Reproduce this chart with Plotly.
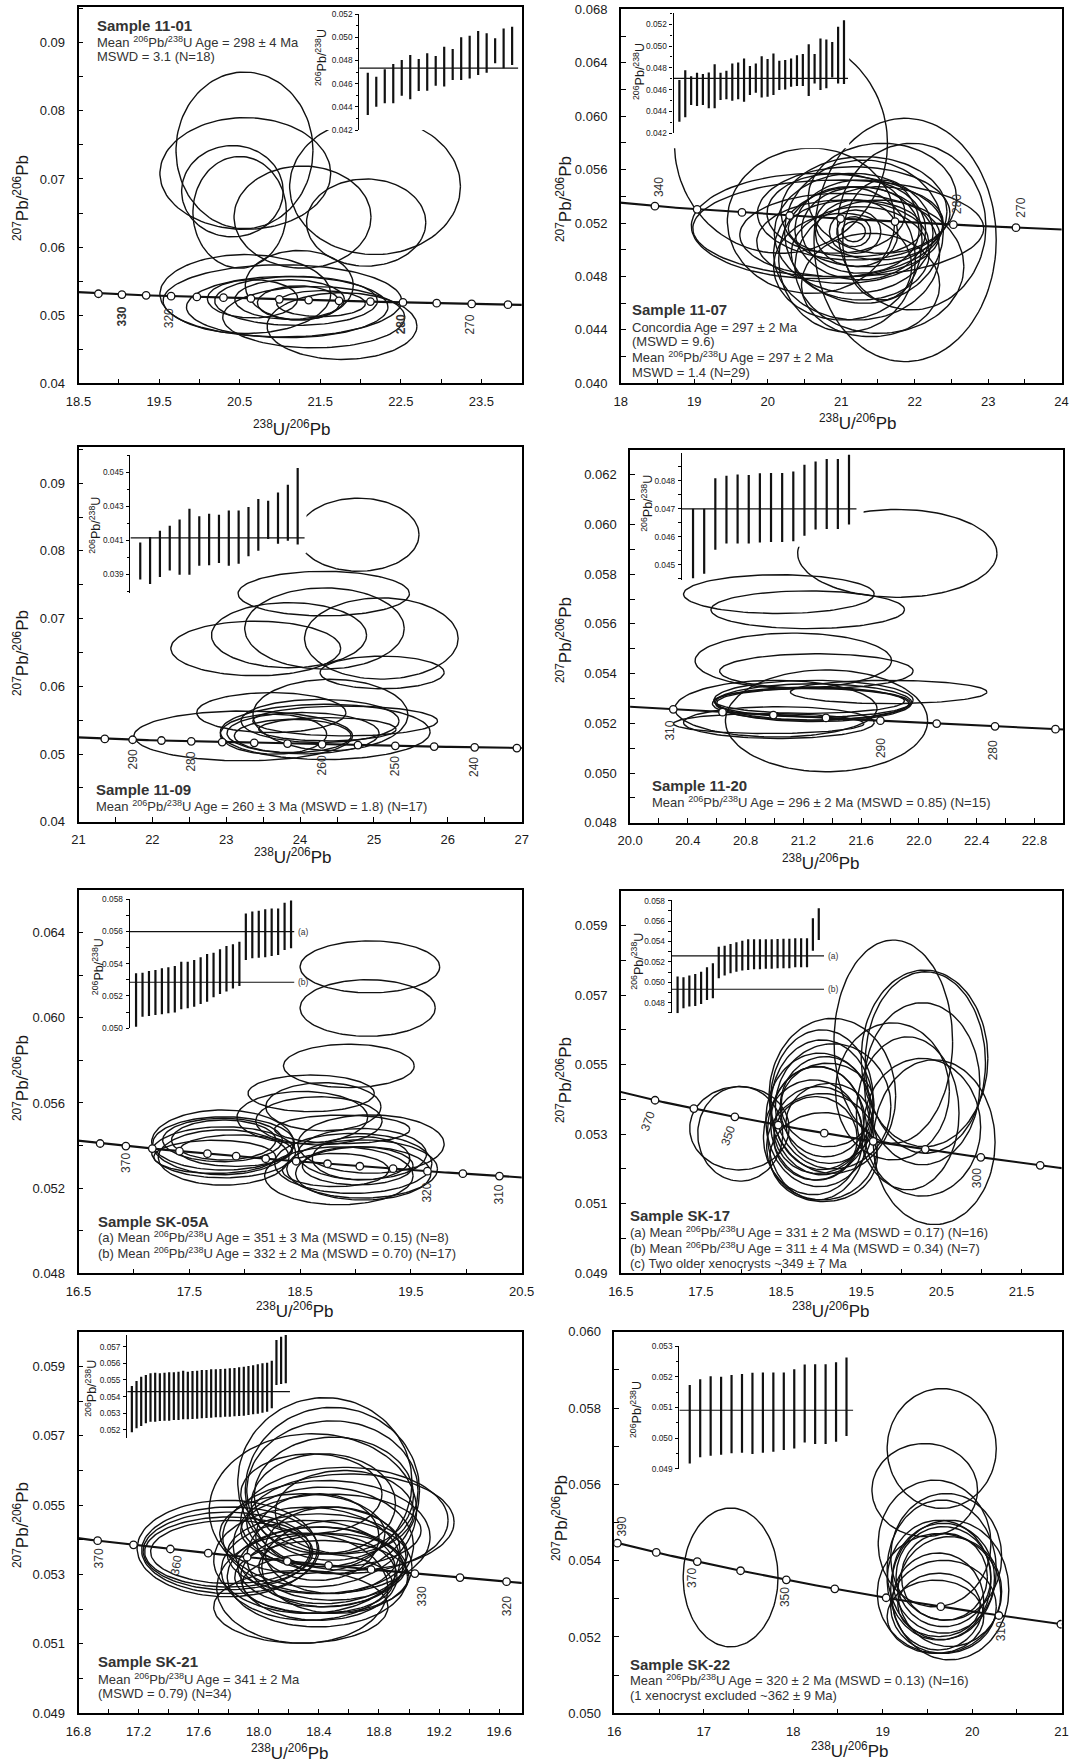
import numpy as np
import plotly.graph_objects as go

W, H = 1073, 1762
FONT = "Liberation Sans, Arial, Helvetica, sans-serif"
INK = "#111111"
TXT = "#333333"

# U-Pb decay constants (concordia model)
L238, L235, U85 = 1.55125e-10, 9.8485e-10, 137.88

SUP = "<sup>206</sup>Pb/<sup>238</sup>U"

# ---------------- Sample 11-01 ----------------
S1101_CX = [20.56, 20.57, 20.41, 20.50, 21.28, 22.07, 22.18, 21.24, 20.57, 21.03, 21.09, 21.77, 21.20, 21.12, 21.23, 21.51, 20.66, 21.42]
S1101_CY = [0.0742, 0.0708, 0.0682, 0.0651, 0.0644, 0.0636, 0.0689, 0.0544, 0.0531, 0.0521, 0.0512, 0.0484, 0.0521, 0.0523, 0.0518, 0.0517, 0.0524, 0.0497]
S1101_RX = [0.85, 1.06, 0.63, 0.58, 0.85, 0.74, 1.06, 0.67, 1.06, 1.48, 1.25, 0.93, 1.01, 0.68, 0.51, 0.55, 0.56, 1.13]
S1101_RY = [0.0115, 0.0082, 0.0067, 0.0082, 0.0075, 0.0064, 0.0100, 0.0051, 0.0058, 0.0053, 0.0045, 0.0049, 0.0036, 0.0029, 0.0025, 0.0019, 0.0028, 0.0045]
S1101_HI = [0.04694, 0.0466, 0.04723, 0.04769, 0.04803, 0.04847, 0.04812, 0.04861, 0.04838, 0.04918, 0.04898, 0.04999, 0.05013, 0.05053, 0.05033, 0.0499, 0.05076, 0.05091]
S1101_LO = [0.04329, 0.04401, 0.0443, 0.0443, 0.04496, 0.04464, 0.04536, 0.04539, 0.04582, 0.04574, 0.04631, 0.04631, 0.04645, 0.04674, 0.04694, 0.04775, 0.04732, 0.0476]
S1101_MEAN = [0.04734]
S1101_AGES = [335, 330, 325, 320, 315, 310, 305, 300, 295, 290, 285, 280, 275, 270, 265]

# ---------------- Sample 11-07 ----------------
S1107_CX = [20.18, 21.87, 21.96, 20.67, 20.96, 20.59, 21.08, 21.31, 21.17, 21.26, 21.26, 21.21, 21.19, 21.17, 21.17, 21.21, 21.52, 21.02, 21.31, 21.17, 21.26, 20.98, 21.56, 21.02, 21.40, 21.52, 20.93, 21.19, 21.56]
S1107_CY = [0.05796, 0.05073, 0.05173, 0.05178, 0.0516, 0.05217, 0.04928, 0.05135, 0.05123, 0.05148, 0.05148, 0.05123, 0.05135, 0.05135, 0.05135, 0.04973, 0.04873, 0.0506, 0.05285, 0.05272, 0.04973, 0.0511, 0.05385, 0.04873, 0.04736, 0.05198, 0.05272, 0.0516, 0.05073]
S1107_RX = [1.45, 1.24, 1.01, 1.71, 1.98, 1.14, 0.93, 1.08, 1.08, 0.89, 0.80, 0.56, 0.35, 0.23, 0.16, 1.13, 1.15, 1.17, 1.13, 1.31, 0.94, 1.36, 1.01, 0.94, 0.94, 0.87, 0.94, 0.91, 0.54]
S1107_RY = [0.00823, 0.00911, 0.00624, 0.00394, 0.00362, 0.00544, 0.00544, 0.00536, 0.00449, 0.00374, 0.00324, 0.00249, 0.00162, 0.00112, 0.00075, 0.00499, 0.00499, 0.00312, 0.00412, 0.00349, 0.00349, 0.00312, 0.00412, 0.00399, 0.00387, 0.00274, 0.00299, 0.00212, 0.00449]
S1107_HI = [0.04688, 0.04779, 0.04724, 0.04755, 0.04743, 0.04758, 0.04834, 0.04755, 0.04773, 0.0484, 0.04849, 0.04886, 0.04816, 0.0484, 0.04907, 0.0488, 0.04932, 0.04865, 0.04871, 0.04886, 0.04916, 0.04926, 0.05017, 0.04926, 0.05069, 0.0506, 0.05038, 0.05176, 0.05237]
S1107_LO = [0.04307, 0.04346, 0.04459, 0.0445, 0.04459, 0.04429, 0.04429, 0.04505, 0.04511, 0.04499, 0.04511, 0.0449, 0.04551, 0.04572, 0.04529, 0.04535, 0.04551, 0.04596, 0.04602, 0.04627, 0.04633, 0.04633, 0.04541, 0.04657, 0.04596, 0.04612, 0.04712, 0.04657, 0.04651]
S1107_MEAN = [0.04703]
S1107_AGES = [340, 330, 320, 310, 300, 290, 280, 270]

# ---------------- Sample 11-09 ----------------
S1109_CX = [24.79, 24.32, 24.33, 23.85, 23.40, 25.10, 25.11, 24.41, 23.61, 23.23, 24.27, 24.61, 24.34, 24.04, 23.64, 23.90, 24.37]
S1109_CY = [0.08239, 0.07369, 0.06854, 0.06755, 0.06559, 0.06706, 0.06205, 0.05577, 0.05611, 0.05267, 0.05488, 0.05488, 0.05326, 0.05307, 0.05292, 0.05267, 0.05365]
S1109_RX = [0.82, 1.16, 1.08, 1.05, 1.15, 1.04, 0.84, 1.05, 1.01, 1.48, 1.07, 1.25, 1.42, 1.03, 0.72, 0.79, 0.93]
S1109_RY = [0.0054, 0.00329, 0.0060, 0.00481, 0.00403, 0.0060, 0.00241, 0.00526, 0.00295, 0.00368, 0.00319, 0.00221, 0.00408, 0.00305, 0.00295, 0.00246, 0.00172]
S1109_HI = [0.04086, 0.04118, 0.04155, 0.04184, 0.0422, 0.04284, 0.04239, 0.04255, 0.04249, 0.04273, 0.04273, 0.04294, 0.04341, 0.04331, 0.0438, 0.04425, 0.04524]
S1109_LO = [0.03867, 0.03841, 0.03882, 0.0392, 0.03896, 0.03896, 0.03949, 0.03951, 0.03965, 0.03949, 0.03961, 0.04004, 0.04037, 0.04106, 0.04078, 0.04096, 0.04073]
S1109_MEAN = [0.04112]
S1109_AGES = [295, 290, 285, 280, 275, 270, 265, 260, 255, 250, 245, 240, 235]

# ---------------- Sample 11-20 ----------------
S1120_CX = [21.85, 21.03, 21.23, 21.13, 21.29, 21.79, 21.36, 21.01, 21.27, 21.27, 21.25, 21.27, 21.03, 20.96, 21.24]
S1120_CY = [0.05884, 0.0572, 0.05657, 0.05452, 0.0541, 0.05326, 0.0521, 0.05259, 0.05293, 0.05283, 0.05279, 0.05283, 0.05203, 0.05199, 0.0529]
S1120_RX = [0.69, 0.66, 0.67, 0.68, 0.67, 0.68, 0.70, 0.70, 0.69, 0.68, 0.68, 0.67, 0.66, 0.66, 0.66]
S1120_RY = [0.00177, 0.00078, 0.00076, 0.00111, 0.0007, 0.00047, 0.00205, 0.00114, 0.0008, 0.00076, 0.00067, 0.00058, 0.00064, 0.0004, 0.0005]
S1120_HI = [0.047, 0.047, 0.04809, 0.04818, 0.04822, 0.04821, 0.04827, 0.04828, 0.04828, 0.04833, 0.04857, 0.04869, 0.04878, 0.04878, 0.04893]
S1120_LO = [0.04452, 0.04468, 0.04554, 0.04576, 0.04576, 0.04576, 0.0458, 0.04582, 0.04582, 0.04584, 0.04604, 0.04626, 0.04628, 0.04628, 0.04644]
S1120_MEAN = [0.047]
S1120_AGES = [310, 305, 300, 295, 290, 285, 280, 275]

# ---------------- Sample SK-05A ----------------
SK05A_CX = [19.13, 19.11, 18.94, 18.60, 18.71, 18.52, 18.67, 18.88, 19.14, 17.80, 17.81, 17.80, 17.81, 17.81, 17.81, 17.73, 17.92, 18.85, 18.98, 19.06, 19.06, 19.02, 19.05, 18.82, 19.07]
SK05A_CY = [0.06239, 0.06046, 0.05774, 0.05645, 0.05582, 0.05532, 0.05516, 0.05476, 0.05407, 0.05415, 0.0541, 0.05426, 0.05426, 0.05368, 0.05344, 0.05347, 0.05376, 0.05258, 0.05316, 0.0529, 0.0536, 0.05305, 0.0534, 0.05285, 0.05269]
SK05A_RX = [0.63, 0.61, 0.59, 0.57, 0.52, 0.59, 0.57, 0.61, 0.66, 0.64, 0.64, 0.54, 0.47, 0.65, 0.59, 0.55, 0.51, 0.67, 0.71, 0.68, 0.58, 0.50, 0.44, 0.48, 0.61]
SK05A_RY = [0.00122, 0.00133, 0.00102, 0.00086, 0.00113, 0.00122, 0.00113, 0.00067, 0.00137, 0.00152, 0.00125, 0.00102, 0.00094, 0.0012, 0.0013, 0.00078, 0.00074, 0.00136, 0.00141, 0.00137, 0.0012, 0.0009, 0.00102, 0.00078, 0.00125]
SK05A_HI = [0.0534, 0.05344, 0.05355, 0.05361, 0.05371, 0.05377, 0.05386, 0.05412, 0.05412, 0.05423, 0.05439, 0.0546, 0.05468, 0.05489, 0.05509, 0.0552, 0.05536, 0.05711, 0.05722, 0.05728, 0.05736, 0.05742, 0.05742, 0.05777, 0.0579]
SK05A_LO = [0.0501, 0.05072, 0.05076, 0.05082, 0.05087, 0.05093, 0.05097, 0.05118, 0.05124, 0.05134, 0.0515, 0.05165, 0.05192, 0.05212, 0.05227, 0.05247, 0.05262, 0.05423, 0.05433, 0.05437, 0.05439, 0.05447, 0.05454, 0.05485, 0.05495]
SK05A_MEAN = [0.05598, 0.05285]
SK05A_AGES = [375, 370, 365, 360, 355, 350, 345, 340, 335, 330, 325, 320, 315, 310]

# ---------------- Sample SK-17 ----------------
SK17_CX = [17.99, 17.98, 19.14, 19.01, 19.01, 18.98, 18.95, 18.90, 18.95, 18.96, 19.05, 19.10, 19.01, 18.93, 19.03, 19.08, 19.90, 20.29, 20.30, 20.26, 20.41, 20.26, 20.08, 19.89, 19.15]
SK17_CY = [0.05301, 0.05317, 0.0541, 0.05399, 0.05377, 0.05341, 0.05303, 0.05291, 0.05331, 0.05312, 0.05379, 0.05331, 0.05264, 0.05288, 0.05234, 0.05384, 0.05566, 0.05518, 0.05506, 0.05445, 0.05277, 0.0532, 0.0536, 0.05423, 0.0538]
SK17_RX = [0.53, 0.62, 0.79, 0.64, 0.64, 0.67, 0.62, 0.62, 0.58, 0.55, 0.56, 0.54, 0.69, 0.52, 0.67, 0.58, 0.74, 0.79, 0.75, 0.72, 0.76, 0.73, 0.64, 0.71, 0.72]
SK17_RY = [0.00136, 0.0012, 0.00223, 0.00201, 0.00194, 0.00192, 0.00192, 0.00165, 0.00163, 0.00125, 0.00144, 0.00115, 0.00153, 0.0012, 0.00128, 0.0012, 0.00292, 0.00254, 0.00261, 0.00233, 0.00237, 0.00198, 0.0022, 0.00197, 0.0018]
SK17_HI = [0.05055, 0.05048, 0.05065, 0.05081, 0.05104, 0.05146, 0.05186, 0.05349, 0.05359, 0.05375, 0.05392, 0.05408, 0.05421, 0.05421, 0.05421, 0.05421, 0.05421, 0.05424, 0.05427, 0.05427, 0.05431, 0.05431, 0.05431, 0.05627, 0.05725]
SK17_LO = [0.04695, 0.04744, 0.04761, 0.04767, 0.04787, 0.04826, 0.04842, 0.05039, 0.05065, 0.05088, 0.05104, 0.05114, 0.0512, 0.05127, 0.05127, 0.05133, 0.05133, 0.05137, 0.05137, 0.05137, 0.05146, 0.05146, 0.05146, 0.0531, 0.05414]
SK17_MEAN = [0.05258, 0.04931]
SK17_AGES = [370, 360, 350, 340, 330, 320, 310, 300, 290]

# ---------------- Sample SK-21 ----------------
SK21_CX = [17.79, 17.81, 17.79, 17.80, 17.81, 18.36, 18.44, 18.49, 18.49, 18.50, 18.35, 18.57, 18.61, 18.45, 18.43, 18.32, 18.33, 18.39, 18.29, 18.28, 18.40, 18.45, 18.52, 18.42, 18.39, 18.39, 18.57, 18.39, 18.41, 18.49, 18.29, 18.48, 18.43, 18.49]
SK21_CY = [0.05375, 0.0537, 0.05368, 0.05365, 0.05365, 0.05485, 0.05566, 0.05542, 0.05542, 0.05528, 0.05533, 0.05456, 0.05451, 0.05408, 0.05384, 0.05341, 0.05312, 0.05293, 0.0526, 0.05207, 0.05293, 0.05351, 0.05322, 0.05293, 0.05274, 0.05408, 0.0548, 0.0536, 0.05322, 0.05322, 0.05418, 0.05427, 0.05504, 0.0537]
SK21_RX = [0.60, 0.59, 0.56, 0.56, 0.53, 0.69, 0.58, 0.58, 0.57, 0.53, 0.47, 0.69, 0.69, 0.69, 0.60, 0.62, 0.58, 0.60, 0.57, 0.58, 0.52, 0.53, 0.50, 0.58, 0.50, 0.41, 0.46, 0.60, 0.55, 0.49, 0.55, 0.60, 0.48, 0.45]
SK21_RY = [0.00139, 0.00125, 0.00112, 0.00101, 0.00091, 0.00221, 0.00244, 0.0024, 0.00201, 0.00168, 0.00115, 0.00153, 0.00139, 0.00163, 0.00168, 0.00153, 0.00144, 0.00144, 0.00158, 0.00105, 0.00125, 0.00144, 0.00134, 0.00105, 0.00086, 0.00125, 0.0012, 0.00115, 0.00115, 0.00096, 0.00115, 0.00105, 0.00144, 0.00125]
SK21_HI = [0.05464, 0.05494, 0.0552, 0.0553, 0.0554, 0.05544, 0.0554, 0.05544, 0.05546, 0.05546, 0.0555, 0.05556, 0.0555, 0.05554, 0.05556, 0.0556, 0.0556, 0.05564, 0.05564, 0.05566, 0.05568, 0.0557, 0.05572, 0.05576, 0.0558, 0.05584, 0.05588, 0.05594, 0.056, 0.05604, 0.05616, 0.0574, 0.0576, 0.0577]
SK21_LO = [0.05186, 0.0521, 0.05224, 0.0524, 0.0525, 0.0525, 0.05254, 0.05256, 0.05256, 0.0526, 0.0526, 0.05264, 0.05264, 0.05266, 0.05268, 0.0527, 0.05272, 0.05274, 0.05276, 0.05276, 0.0528, 0.0528, 0.05282, 0.05284, 0.05286, 0.0529, 0.05294, 0.05298, 0.05304, 0.0531, 0.0533, 0.0547, 0.05476, 0.0548]
SK21_MEAN = [0.0543]
SK21_AGES = [370, 365, 360, 355, 350, 345, 340, 335, 330, 325, 320]

# ---------------- Sample SK-22 ----------------
SK22_CX = [17.30, 19.66, 19.47, 19.58, 19.71, 19.66, 19.75, 19.63, 19.63, 19.68, 19.75, 19.68, 19.69, 19.62, 19.68, 19.63, 19.59]
SK22_CY = [0.05356, 0.05694, 0.05585, 0.05445, 0.0541, 0.05376, 0.05323, 0.05314, 0.05349, 0.05354, 0.05319, 0.05358, 0.05358, 0.05293, 0.05279, 0.05284, 0.05253]
SK22_RX = [0.53, 0.61, 0.59, 0.63, 0.62, 0.61, 0.66, 0.69, 0.58, 0.57, 0.58, 0.53, 0.48, 0.51, 0.59, 0.46, 0.54]
SK22_RY = [0.00182, 0.00157, 0.00122, 0.00166, 0.00166, 0.00183, 0.00183, 0.00157, 0.00157, 0.00144, 0.00144, 0.00131, 0.00114, 0.00127, 0.00122, 0.00083, 0.00096]
SK22_HI = [0.05173, 0.05192, 0.05202, 0.052, 0.05206, 0.05209, 0.05213, 0.05214, 0.05214, 0.05214, 0.05224, 0.0524, 0.05241, 0.05241, 0.05247, 0.05263]
SK22_LO = [0.04918, 0.04938, 0.04943, 0.04946, 0.04951, 0.04953, 0.04949, 0.04953, 0.04956, 0.04962, 0.04967, 0.04986, 0.04981, 0.04981, 0.04989, 0.05007]
SK22_MEAN = [0.05091]
SK22_AGES = [390, 380, 370, 360, 350, 340, 330, 320, 310, 300]

# ---------------- panel layout ----------------
PANELS = [
    dict(ell=(S1101_CX, S1101_CY, S1101_RX, S1101_RY), bars=(S1101_LO, S1101_HI), mean=S1101_MEAN, mean_lab=None,
         ages=S1101_AGES, frame=(78.5, 521.7, 7.3, 383.3), xr=(18.5, 24.0), yr=(0.04, 0.0952),
         xt=(18.5, 1, 0.5, ".1f"), yt=(0.04, 0.01, 0.005, ".2f"),
         inset=dict(ax=359.3, step=8.49, xend=18.73, plo=130, phi=14, ylo=0.042, yhi=0.052, t0=0.042, dt=0.002, mn=0.001),
         ititle=(321, 58), mask=(316, 521.7, 7.3, 130), xtitle=(291, 428), ytitle=(21, 198),
         labels=[(330, 0, -22, -90, True), (320, -2, -22, -90, False), (280, -2, -22, -90, True), (270, -2, -21, -90, False)],
         text=[("<b>Sample 11-01</b>", 25), ("Mean " + SUP + " Age = 298 ± 4 Ma", 41.7), ("MSWD = 3.1 (N=18)", 56.7)], tx=94.7),
    dict(ell=(S1107_CX, S1107_CY, S1107_RX, S1107_RY), bars=(S1107_LO, S1107_HI), mean=S1107_MEAN, mean_lab=None,
         ages=S1107_AGES, frame=(620.8, 1061.6, 9.3, 383.3), xr=(18, 24), yr=(0.040, 0.068),
         xt=(18, 1, 0.5, ".0f"), yt=(0.040, 0.004, 0.002, ".3f"),
         inset=dict(ax=673.5, step=5.879, xend=29.7, plo=133.3, phi=13.3, ylo=0.042, yhi=0.053, t0=0.042, dt=0.002, mn=0.001),
         ititle=(639, 72), mask=(646.6, 849.2, 9.3, 148.3), xtitle=(857.6, 421.7), ytitle=(564, 199),
         labels=[(340, 4, 19, -90, False), (280, 3, 21, -90, False), (270, 5, 20, -90, False)],
         text=[("<b>Sample 11-07</b>", 310), ("Concordia Age = 297 ± 2 Ma", 327.3), ("(MSWD = 9.6)", 341.7),
               ("Mean " + SUP + " Age = 297 ± 2 Ma", 356.7), ("MSWD = 1.4 (N=29)", 372.3)], tx=630),
    dict(ell=(S1109_CX, S1109_CY, S1109_RX, S1109_RY), bars=(S1109_LO, S1109_HI), mean=S1109_MEAN, mean_lab=None,
         ages=S1109_AGES, frame=(78.5, 521.7, 447.3, 821.7), xr=(21, 27), yr=(0.04, 0.0953),
         xt=(21, 1, 0.5, ".0f"), yt=(0.04, 0.01, 0.005, ".2f"),
         inset=dict(ax=130.4, step=9.84, xend=17.72, plo=592.7, phi=455, ylo=0.0379, yhi=0.046, t0=0.039, dt=0.002, mn=0.001),
         ititle=(94.7, 525), mask=(78.5, 306.5, 447.3, 553.3), xtitle=(292, 856), ytitle=(21, 653),
         labels=[(290, 0, -20, -90, False), (280, 0, -20, -90, False), (260, 0, -21, -90, False), (250, 0, -20, -90, False), (240, 0, -20, -90, False)],
         text=[("<b>Sample 11-09</b>", 789), ("Mean " + SUP + " Age = 260 ± 3 Ma (MSWD = 1.8) (N=17)", 805.7)], tx=93.7),
    dict(ell=(S1120_CX, S1120_CY, S1120_RX, S1120_RY), bars=(S1120_LO, S1120_HI), mean=S1120_MEAN, mean_lab=None,
         ages=S1120_AGES, frame=(630.1, 1063.4, 450, 822.7), xr=(20.0, 23.0), yr=(0.048, 0.063),
         xt=(20.0, 0.4, 0.2, ".1f"), yt=(0.048, 0.002, 0.001, ".3f"),
         inset=dict(ax=681.9, step=11.14, xend=15.69, plo=580, phi=453.3, ylo=0.04446, yhi=0.04898, t0=0.045, dt=0.001, mn=0.0005),
         ititle=(647.5, 503.3), mask=(630.1, 863.6, 450, 546.7), xtitle=(820, 861.7), ytitle=(564, 640),
         labels=[(310, -3, -21, -90, False), (290, 0, -27, -90, False), (280, -2, -24, -90, False)],
         text=[("<b>Sample 11-20</b>", 785.7), ("Mean " + SUP + " Age = 296 ± 2 Ma (MSWD = 0.85) (N=15)", 802.3)], tx=650),
    dict(ell=(SK05A_CX, SK05A_CY, SK05A_RX, SK05A_RY), bars=(SK05A_LO, SK05A_HI), mean=SK05A_MEAN, mean_lab=["(a)", "(b)"],
         ages=SK05A_AGES, frame=(78.5, 521.7, 890, 1273.3), xr=(16.5, 20.5), yr=(0.048, 0.066),
         xt=(16.5, 1, 0.5, ".1f"), yt=(0.048, 0.004, 0.002, ".3f"),
         inset=dict(ax=129.6, step=6.458, xend=25.53, plo=1028.3, phi=899, ylo=0.050, yhi=0.058, t0=0.050, dt=0.002, mn=0.001),
         ititle=(97.5, 966.7), mask=None, xtitle=(294.5, 1310), ytitle=(21, 1078),
         labels=[(370, 0, -17, -90, False), (320, 0, -21, -90, False), (310, 0, -18, -90, False)],
         text=[("<b>Sample SK-05A</b>", 1221.7), ("(a) Mean " + SUP + " Age = 351 ± 3 Ma (MSWD = 0.15) (N=8)", 1237.3),
               ("(b) Mean " + SUP + " Age = 332 ± 2 Ma (MSWD = 0.70) (N=17)", 1253.3)], tx=95.7),
    dict(ell=(SK17_CX, SK17_CY, SK17_RX, SK17_RY), bars=(SK17_LO, SK17_HI), mean=SK17_MEAN, mean_lab=["(a)", "(b)"],
         ages=SK17_AGES, frame=(620.8, 1061.6, 890.7, 1273.3), xr=(16.5, 22.0), yr=(0.049, 0.060),
         xt=(16.5, 1, 0.5, ".1f"), yt=(0.049, 0.002, 0.001, ".3f"),
         inset=dict(ax=671.7, step=5.883, xend=25.9, plo=1013.3, phi=900, ylo=0.04695, yhi=0.05807, t0=0.048, dt=0.002, mn=0.001),
         ititle=(637, 961.7), mask=None, xtitle=(830, 1310), ytitle=(564, 1080),
         labels=[(370, -7, -21, -70, False), (350, -7, -19, -70, False), (300, -3, -21, -90, False)],
         text=[("<b>Sample SK-17</b>", 1215.7), ("(a) Mean " + SUP + " Age = 331 ± 2 Ma (MSWD = 0.17) (N=16)", 1232.3),
               ("(b) Mean " + SUP + " Age = 311 ± 4 Ma (MSWD = 0.34) (N=7)", 1247.7),
               ("(c) Two older xenocrysts ~349 ± 7 Ma", 1263.3)], tx=627.7),
    dict(ell=(SK21_CX, SK21_CY, SK21_RX, SK21_RY), bars=(SK21_LO, SK21_HI), mean=SK21_MEAN, mean_lab=None,
         ages=SK21_AGES, frame=(78.5, 521.7, 1331.7, 1713.3), xr=(16.8, 19.75), yr=(0.049, 0.060),
         xt=(16.8, 0.4, 0.2, ".1f"), yt=(0.049, 0.002, 0.001, ".3f"),
         inset=dict(ax=127.2, step=4.664, xend=34.9, plo=1438.3, phi=1335, ylo=0.0515, yhi=0.0577, t0=0.052, dt=0.001, mn=None),
         ititle=(91.5, 1388.3), mask=None, xtitle=(289.3, 1752), ytitle=(21, 1525),
         labels=[(370, 1, -18, -90, False), (360, 6, -16, -80, False), (330, 7, -23, -90, False), (320, 0, -25, -90, False)],
         text=[("<b>Sample SK-21</b>", 1661.7), ("Mean " + SUP + " Age = 341 ± 2 Ma", 1679), ("(MSWD = 0.79) (N=34)", 1693.3)], tx=96.4),
    dict(ell=(SK22_CX, SK22_CY, SK22_RX, SK22_RY), bars=(SK22_LO, SK22_HI), mean=SK22_MEAN, mean_lab=None,
         ages=SK22_AGES, frame=(614.3, 1061.6, 1331.7, 1713.3), xr=(16, 21), yr=(0.050, 0.060),
         xt=(16, 1, 0.5, ".0f"), yt=(0.050, 0.002, 0.001, ".3f"),
         inset=dict(ax=679.3, step=10.45, xend=16.65, plo=1469, phi=1346, ylo=0.049, yhi=0.053, t0=0.049, dt=0.001, mn=0.0005),
         ititle=(636, 1410), mask=None, xtitle=(849, 1750), ytitle=(560, 1518),
         labels=[(390, 5, 17, -90, False), (370, -6, -16, -90, False), (350, -2, -17, -90, False), (310, 3, -16, -90, False)],
         text=[("<b>Sample SK-22</b>", 1664), ("Mean " + SUP + " Age = 320 ± 2 Ma (MSWD = 0.13) (N=16)", 1680),
               ("(1 xenocryst excluded ~362 ± 9 Ma)", 1695)], tx=627.7),
]


def concordia(t_ma):
    t = np.asarray(t_ma, dtype=float) * 1e6
    e8 = np.expm1(L238 * t)
    e5 = np.expm1(L235 * t)
    return 1.0 / e8, e5 / e8 / U85


CURVE_T = np.arange(200.0, 460.0, 0.5)


def ellipse_xy(cx, cy, rx, ry, n=120):
    th = np.linspace(0, 2 * np.pi, n)
    xs, ys = [], []
    for a, b, c, d in zip(cx, cy, rx, ry):
        xs.extend((a + c * np.cos(th)).tolist()); xs.append(None)
        ys.extend((b + d * np.sin(th)).tolist()); ys.append(None)
    return xs, ys


def pxx(px):
    return px / W


def pxy(py):
    return 1 - py / H


fig = go.Figure()
ann = []
lay = {}

AX = dict(showline=True, mirror=True, linecolor="black", linewidth=1.6, ticks="inside", ticklen=5,
          tickwidth=1.1, tickcolor="black", showgrid=False, zeroline=False, automargin=False,
          tickfont=dict(size=13, color="#1a1a1a", family=FONT))

# ---- main concordia panels ----
for k, P in enumerate(PANELS):
    n = 10 + k
    xid, yid = f"x{n}", f"y{n}"
    l, r, t, b = P["frame"]
    x0, x1 = P["xr"]
    y0, y1 = P["yr"]
    lay[f"xaxis{n}"] = dict(domain=[pxx(l), pxx(r)], range=[x0 - 1e-6, x1 + 1e-6], anchor=yid,
                            tick0=P["xt"][0], dtick=P["xt"][1], tickformat=P["xt"][3], ticklabelstandoff=5,
                            minor=dict(tick0=P["xt"][0], dtick=P["xt"][2], ticks="inside", ticklen=5,
                                       tickwidth=1.1, tickcolor="black", showgrid=False), **AX)
    lay[f"yaxis{n}"] = dict(domain=[pxy(b), pxy(t)], range=[y0 - 1e-7, y1], anchor=xid,
                            tick0=P["yt"][0], dtick=P["yt"][1], tickformat=P["yt"][3], ticklabelstandoff=9,
                            minor=dict(tick0=P["yt"][0], dtick=P["yt"][2], ticks="inside", ticklen=5,
                                       tickwidth=1.1, tickcolor="black", showgrid=False), **AX)
    ex, ey = ellipse_xy(*P["ell"])
    fig.add_trace(go.Scatter(x=ex, y=ey, xaxis=xid, yaxis=yid, mode="lines",
                             line=dict(color=INK, width=1.4), hoverinfo="skip"))
    if P["mask"] is not None:
        ml, mr, mt, mb = P["mask"]
        fx = lambda px: x0 + (px - l) / (r - l) * (x1 - x0)
        fy = lambda py: y0 + (b - py) / (b - t) * (y1 - y0)
        fig.add_trace(go.Scatter(x=[fx(ml), fx(mr), fx(mr), fx(ml), fx(ml)],
                                 y=[fy(mb), fy(mb), fy(mt), fy(mt), fy(mb)],
                                 xaxis=xid, yaxis=yid, mode="lines", fill="toself",
                                 fillcolor="white", line=dict(width=0, color="white"), hoverinfo="skip"))
    cxs, cys = concordia(CURVE_T)
    fig.add_trace(go.Scatter(x=cxs, y=cys, xaxis=xid, yaxis=yid, mode="lines",
                             line=dict(color=INK, width=2.1), hoverinfo="skip"))
    mx, my = concordia(P["ages"])
    fig.add_trace(go.Scatter(x=mx, y=my, xaxis=xid, yaxis=yid, mode="markers",
                             marker=dict(size=7.5, color="white", line=dict(color=INK, width=1.3)),
                             hoverinfo="skip"))
    for age, dx, dy, ang, bold in P["labels"]:
        lx, ly = concordia([age])
        txt = f"<b>{age}</b>" if bold else str(age)
        ann.append(dict(xref=xid, yref=yid, x=float(lx[0]), y=float(ly[0]), text=txt, textangle=ang,
                        xshift=dx, yshift=dy, showarrow=False,
                        font=dict(size=12, color=TXT, family=FONT)))
    # sample text block
    for i, (s, py) in enumerate(P["text"]):
        ann.append(dict(xref="paper", yref="paper", x=pxx(P["tx"]), y=pxy(py), text=s, showarrow=False,
                        xanchor="left", yanchor="middle",
                        font=dict(size=15 if i == 0 else 13, color=TXT, family=FONT)))
    # axis titles
    ann.append(dict(xref="paper", yref="paper", x=pxx(P["xtitle"][0]), y=pxy(P["xtitle"][1]),
                    text="<sup>238</sup>U/<sup>206</sup>Pb", showarrow=False, xanchor="center", yanchor="middle",
                    font=dict(size=17, color="#1a1a1a", family=FONT)))
    ann.append(dict(xref="paper", yref="paper", x=pxx(P["ytitle"][0]), y=pxy(P["ytitle"][1]),
                    text="<sup>207</sup>Pb/<sup>206</sup>Pb", showarrow=False, textangle=-90,
                    xanchor="center", yanchor="middle",
                    font=dict(size=17, color="#1a1a1a", family=FONT)))

# ---- weighted-mean insets ----
for k, P in enumerate(PANELS):
    n = 20 + k
    xid, yid = f"x{n}", f"y{n}"
    I = P["inset"]
    lo, hi = P["bars"]
    N = len(lo)
    lay[f"xaxis{n}"] = dict(domain=[pxx(I["ax"]), pxx(I["ax"] + I["xend"] * I["step"])],
                            range=[0, I["xend"]], anchor=yid, visible=False, fixedrange=True, automargin=False)
    ydict = dict(domain=[pxy(I["plo"]), pxy(I["phi"])], range=[I["ylo"] - 2e-7, I["yhi"] + 2e-7], anchor=xid,
                 showline=True, linecolor="black", linewidth=1.1, ticks="outside", ticklen=3, tickwidth=1,
                 tickcolor="black", tick0=I["t0"], dtick=I["dt"], tickformat=".3f", showgrid=False,
                 zeroline=False, ticklabelstandoff=1, automargin=False,
                 tickfont=dict(size=8.3, color="#1a1a1a", family=FONT))
    if I["mn"] is not None:
        ydict["minor"] = dict(tick0=I["t0"], dtick=I["mn"], ticks="outside", ticklen=2.5, tickwidth=1,
                              tickcolor="black", showgrid=False)
    lay[f"yaxis{n}"] = ydict
    bx, by = [], []
    for i in range(N):
        bx += [i + 1, i + 1, None]
        by += [lo[i], hi[i], None]
    fig.add_trace(go.Scatter(x=bx, y=by, xaxis=xid, yaxis=yid, mode="lines",
                             line=dict(color=INK, width=2.2), hoverinfo="skip"))
    for j, m in enumerate(P["mean"]):
        fig.add_trace(go.Scatter(x=[0, I["xend"]], y=[m, m], xaxis=xid, yaxis=yid, mode="lines",
                                 line=dict(color=INK, width=1.2), hoverinfo="skip"))
        if P["mean_lab"]:
            ann.append(dict(xref=xid, yref=yid, x=I["xend"], y=m, text=P["mean_lab"][j], showarrow=False,
                            xanchor="left", yanchor="middle", xshift=2,
                            font=dict(size=8.5, color=TXT, family=FONT)))
    ann.append(dict(xref="paper", yref="paper", x=pxx(P["ititle"][0]), y=pxy(P["ititle"][1]),
                    text=SUP, showarrow=False, textangle=-90, xanchor="center", yanchor="middle",
                    font=dict(size=12.5, color="#1a1a1a", family=FONT)))

fig.update_layout(width=W, height=H, margin=dict(l=0, r=0, t=0, b=0, pad=0, autoexpand=False), autosize=False,
                  paper_bgcolor="white", plot_bgcolor="rgba(0,0,0,0)", showlegend=False,
                  annotations=ann, font=dict(family=FONT), **lay)

fig.write_html("out.html", config={"displayModeBar": False, "responsive": False},
               post_script="document.body.style.margin='0';document.body.style.padding='0';"
                           "document.documentElement.style.overflow='hidden';")
